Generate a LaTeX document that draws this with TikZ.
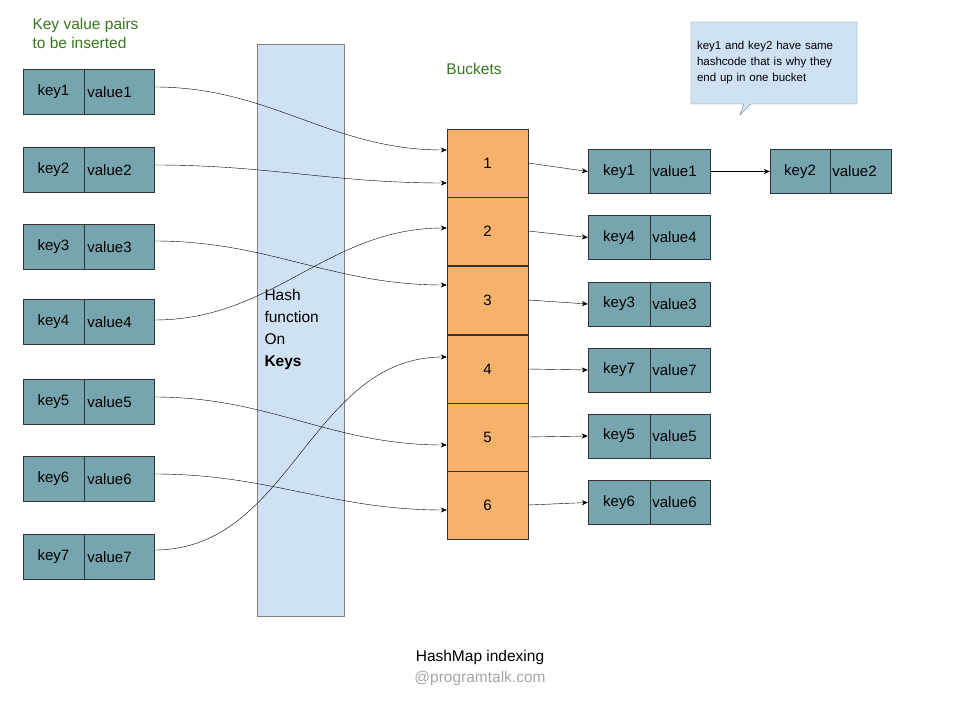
\documentclass[tikz,border=0pt]{standalone}
\usepackage{fontspec}
\setmainfont{Liberation Sans}
\usetikzlibrary{positioning,arrows.meta,shapes.callouts}
\definecolor{cell}{RGB}{118,165,175}
\definecolor{bucket}{RGB}{246,178,107}
\definecolor{hashblue}{RGB}{207,226,243}
\definecolor{labelgreen}{RGB}{56,118,29}

\begin{document}
\begin{tikzpicture}[x=1pt,y=-1pt,->,>={Stealth[length=6pt,width=5pt]},
  thin,font=\fontsize{15}{18}\selectfont,
  key node/.style={draw=black!80,fill=cell,minimum width=61pt,minimum height=45pt,inner sep=0pt},
  value node/.style={draw=black!80,fill=cell,minimum width=70pt,minimum height=45pt,inner sep=0pt,anchor=west,text width=64pt},
  bucket node/.style={draw=black!80,fill=bucket,minimum width=81pt,minimum height=68pt,inner sep=0pt}]
  \useasboundingbox (0,0) rectangle (954,711);

  % pairs to be inserted
  \foreach \n/\y in {1/92,2/170,3/247,4/322,5/402,6/479,7/557}{
    \node[key node] (k\n) at (53.5,\y) {key\n};
    \node[value node,anchor=west] (v\n) at (k\n.east) {value\n\\[9pt]};
  }
  \node[text=labelgreen,anchor=north west,align=left,font=\fontsize{15.5}{19}\selectfont] (title) at (29,15) {Key value pairs\\to be inserted};

  % hash function
  \node[draw=black!50,fill=hashblue,minimum width=87pt,minimum height=572pt,inner sep=0pt] (hash) at (300.5,330) {};
  \node[anchor=north west,align=left,font=\fontsize{15.5}{22}\selectfont] (hashtext) at (261,286) {Hash\\function\\On\\\textbf{Keys}};

  % buckets
  \node[text=labelgreen,font=\fontsize{15.5}{19}\selectfont] (buckets) at (474,69) {Buckets};
  \foreach \n/\y in {1/163,2/231,3/300,4/369,5/437,6/505}{
    \node[bucket node] (b\n) at (487.5,\y) {\n};
  }

  % chained entries
  \foreach \n/\k/\y in {1/1/171.5,2/4/237.5,3/3/304,4/7/370,5/5/436,6/6/502.5}{
    \node[key node,minimum width=62pt,minimum height=44pt] (rk\n) at (619,\y) {key\k};
    \node[value node,minimum width=60pt,minimum height=44pt,text width=56pt] (rv\n) at (rk\n.east) {value\k\\[9pt]};
    \draw (b\n.east) -- (rk\n.west);
  }
  \node[key node,minimum width=60pt,minimum height=44pt] (ek) at (800,171.5) {key2};
  \node[value node,minimum width=61pt,minimum height=44pt,text width=57pt] (ev) at (ek.east) {value2\\[9pt]};
  \draw (rv1.east) -- (ek.west);

  % note
  \node[rectangle callout,draw=black!50,fill=hashblue,minimum width=166pt,minimum height=82pt,
    callout absolute pointer={(740,115)},align=left,text width=154pt,
    font=\fontsize{11.5}{16}\selectfont,inner sep=5pt,->] (note) at (774,63)
    {key1 and key2 have same hashcode that is why they end up in one bucket};

  % hashing
  \draw (v1.east |- 0,87) to[out=0,in=180] (b1.west |- 0,150);
  \draw (v2.east |- 0,165) to[out=0,in=180] (b1.west |- 0,183);
  \draw (v3.east |- 0,241) to[out=0,in=180] (b3.west |- 0,285);
  \draw (v4.east |- 0,320) to[out=0,in=180] (b2.west |- 0,228);
  \draw (v5.east |- 0,397) to[out=0,in=180] (b5.west |- 0,445);
  \draw (v6.east |- 0,474) to[out=0,in=180] (b6.west |- 0,510);
  \draw (v7.east |- 0,550) to[out=0,in=180] (b4.west |- 0,357);

  \node[font=\fontsize{15.5}{19}\selectfont] (caption) at (480,657) {HashMap indexing};
  \node[text=black!35,font=\fontsize{15.5}{19}\selectfont] (site) at (480,678) {@programtalk.com};
\end{tikzpicture}
\end{document}
